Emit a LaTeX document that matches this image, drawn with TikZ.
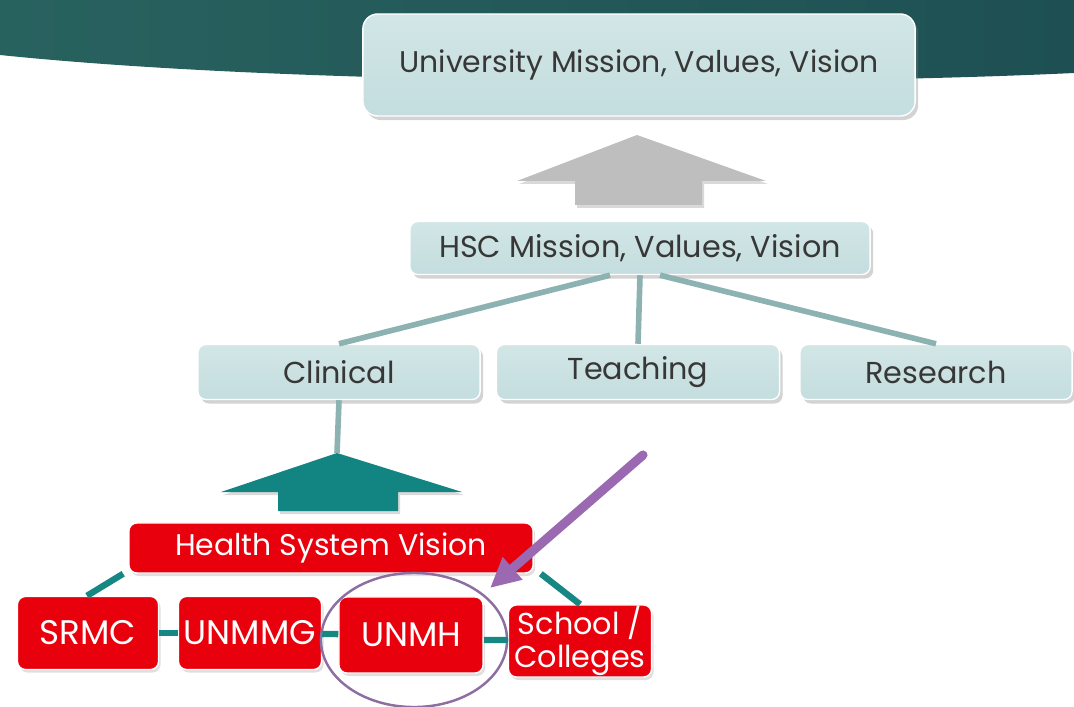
\documentclass[tikz,border=0pt]{standalone}
\usepackage{fontspec}
\setmainfont{Poppins}
\usetikzlibrary{shapes.geometric, shadows, arrows.meta}

\definecolor{bannerl}{RGB}{40,98,95}
\definecolor{bannerr}{RGB}{30,80,83}
\definecolor{paleblue}{RGB}{196,221,222}
\definecolor{palebluetop}{RGB}{210,230,230}
\definecolor{inkgrey}{RGB}{55,55,55}
\definecolor{slateline}{RGB}{140,178,178}
\definecolor{tealline}{RGB}{22,135,130}
\definecolor{tealarrow}{RGB}{18,132,130}
\definecolor{greyarrow}{RGB}{190,190,190}
\definecolor{boxred}{RGB}{232,0,12}
\definecolor{lilac}{RGB}{155,105,178}
\definecolor{ringline}{RGB}{140,110,160}

\begin{document}
\begin{tikzpicture}[x=0.01cm, y=-0.01cm,
  bluebox/.style={rounded corners=0.08cm, draw=white, line width=0.4pt,
    top color=palebluetop, bottom color=paleblue, text=inkgrey,
    drop shadow={shadow xshift=0.03cm, shadow yshift=-0.04cm, opacity=0.35},
    inner sep=0pt, font=\fontsize{8.6}{10}\selectfont},
  redbox/.style={rounded corners=0.08cm, fill=boxred, draw=white, line width=0.4pt,
    text=white, inner sep=0pt, align=center,
    drop shadow={shadow xshift=0.02cm, shadow yshift=-0.03cm, opacity=0.25},
    font=\fontsize{9.7}{11}\selectfont}]
  \useasboundingbox (0,0) rectangle (1074,707);

  % Banner
  \shade[left color=bannerl, right color=bannerr]
    (0,0) -- (1074,0) -- (1074,73) .. controls (800,86) and (300,86) .. (0,55) -- cycle;

  % Nodes
  \node[bluebox, rounded corners=0.15cm, minimum width=5.52cm, minimum height=1.02cm,
    font=\fontsize{8.5}{10}\selectfont] (univ) at (639,65) {University Mission, Values, Vision};
  \node[bluebox, minimum width=4.6cm, minimum height=0.53cm] (hsc) at (640,248) {HSC Mission, Values, Vision};
  \node[bluebox, minimum width=2.82cm, minimum height=0.55cm] (clinical) at (339,372) {Clinical};
  \node[bluebox, minimum width=2.83cm, minimum height=0.55cm] (teaching) at (638,372) {Teaching};
  \node[bluebox, minimum width=2.72cm, minimum height=0.55cm] (research) at (936,372) {Research};

  \node[redbox, minimum width=4.04cm, minimum height=0.50cm,
    font=\fontsize{8.5}{10}\selectfont] (hsv) at (331,548) {Health System Vision};
  \node[redbox, minimum width=1.41cm, minimum height=0.73cm] (srmc) at (88,633) {SRMC};
  \node[redbox, minimum width=1.43cm, minimum height=0.73cm] (unmmg) at (250,633) {UNMMG};
  \node[redbox, minimum width=1.44cm, minimum height=0.76cm] (unmh) at (411,635) {UNMH};
  \node[redbox, minimum width=1.43cm, minimum height=0.72cm,
    font=\fontsize{8.6}{9.4}\selectfont] (school) at (580,641) {School /\\Colleges};

  \node[ellipse, draw=ringline, line width=0.7pt, minimum width=1.86cm, minimum height=1.34cm]
    (ring) at (414,640) {};

  \coordinate (greytip) at (637,135);
  \coordinate (tealtip) at (337,453);
  \coordinate (pointer) at (643,455);
  \coordinate (pointtip) at (490,588);

  % Block arrows
  \fill[greyarrow, drop shadow={shadow xshift=0.02cm, shadow yshift=-0.03cm, opacity=0.3}]
    (greytip) -- (766,181) -- (702,181) -- (702,205) -- (575,205) -- (575,181) -- (517,181) -- cycle;
  \fill[tealarrow, drop shadow={shadow xshift=0.02cm, shadow yshift=-0.03cm, opacity=0.3}]
    (tealtip) -- (462,492) -- (398,492) -- (398,511) -- (278,511) -- (278,492) -- (221,492) -- cycle;

  % Edges
  \draw[slateline, line width=1.6pt] ([xshift=-0.3cm]hsc.south) -- (clinical.north);
  \draw[slateline, line width=1.6pt] (hsc.south) -- (teaching.north);
  \draw[slateline, line width=1.6pt] ([xshift=0.2cm]hsc.south) -- (research.north);
  \draw[slateline, line width=1.6pt] (clinical.south) -- (tealtip);

  \draw[tealline, line width=1.8pt] ([xshift=-0.05cm]hsv.south west) -- ([xshift=-0.01cm]srmc.north);
  \draw[tealline, line width=1.8pt] ([xshift=0.07cm]hsv.south east) -- (school.north);
  \draw[tealline, line width=1.8pt] (srmc) -- (unmmg);
  \draw[tealline, line width=1.8pt] (unmmg) -- (unmh);
  \draw[tealline, line width=1.8pt] ([yshift=-0.05cm]unmh.east) -- ([yshift=0.01cm]school.west);

  % Pointer
  \draw[lilac, line width=2.6pt, line cap=round, -{Triangle[length=0.3cm, width=0.28cm]}]
    (pointer) -- (pointtip);
\end{tikzpicture}
\end{document}
